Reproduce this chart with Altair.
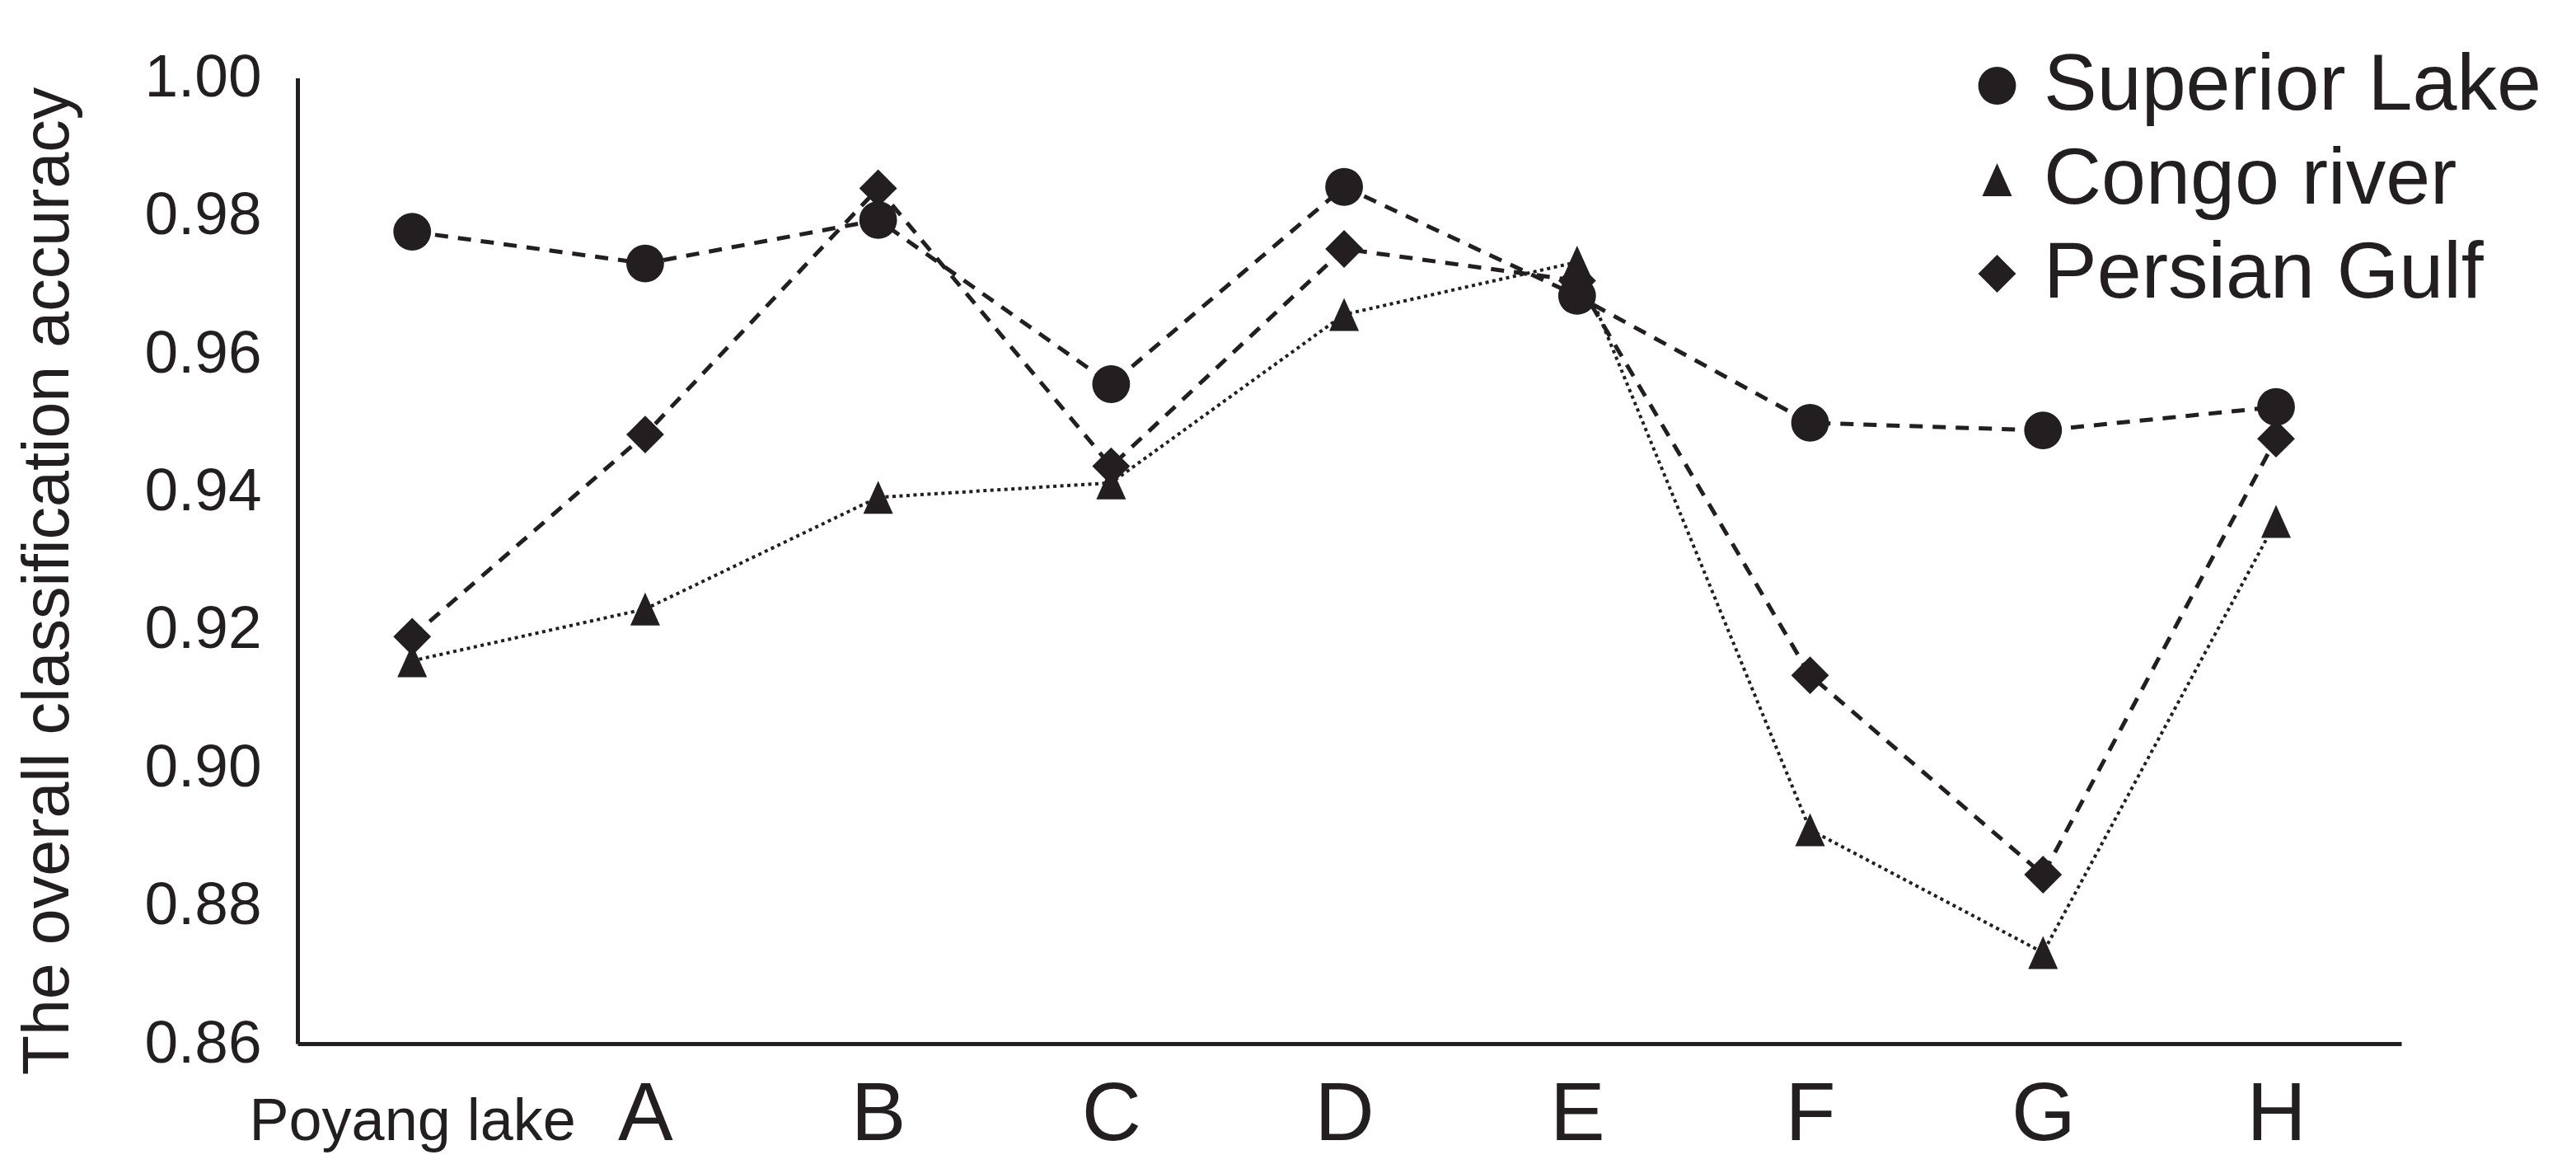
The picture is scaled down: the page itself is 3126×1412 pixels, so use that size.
import altair as alt
import pandas as pd

# ---- data ----
sites = ["Poyang lake", "A", "B", "C", "D", "E", "F", "G", "H"]
series_names = ["Superior Lake", "Congo river", "Persian Gulf"]
superior = [0.9777, 0.9731, 0.9794, 0.9556, 0.9842, 0.9684, 0.9500, 0.9489, 0.9523]
congo = [0.9155, 0.9230, 0.9392, 0.9413, 0.9657, 0.9733, 0.8910, 0.8732, 0.9357]
persian = [0.9190, 0.9483, 0.9840, 0.9437, 0.9752, 0.9706, 0.9134, 0.8845, 0.9477]
y_ticks = [0.86, 0.88, 0.90, 0.92, 0.94, 0.96, 0.98, 1.00]
dashed_series = ["Superior Lake", "Persian Gulf"]
dotted_series = ["Congo river"]

rows = []
for name, vals in zip(series_names, [superior, congo, persian]):
    for s, v in zip(sites, vals):
        rows.append({"site": s, "series": name, "accuracy": v})
df = pd.DataFrame(rows)

INK = "#231f20"
FONT = "Liberation Sans"

x_enc = alt.X(
    "site:N",
    sort=sites,
    scale=alt.Scale(type="point", padding=0.515, align=0.478),
    axis=alt.Axis(
        title=None, labelAngle=0, ticks=False, tickSize=0, grid=False,
        domainColor=INK, domainWidth=5, labelColor=INK, labelFont=FONT,
        labelFontSize={"expr": "datum.value == 'Poyang lake' ? 72 : 100"},
        labelBaseline="alphabetic", labelPadding=116, labelOverlap=False,
        labelLimit=1000,
    ),
)
y_enc = alt.Y(
    "accuracy:Q",
    scale=alt.Scale(domain=[0.86, 1.0], zero=False, nice=False),
    axis=alt.Axis(
        values=y_ticks, format=".2f", title="The overall classification accuracy",
        grid=False, ticks=False, tickSize=0, domainColor=INK, domainWidth=5,
        labelColor=INK, labelFont=FONT, labelFontSize=73, labelPadding=44,
        titleFont=FONT, titleFontSize=79, titleFontWeight="normal", titleColor=INK,
        titleX=-303, titleY=610, titleAlign="center", titleBaseline="middle",
        titleAngle=270, titleLimit=2000,
    ),
)

dashed = (
    alt.Chart(df)
    .transform_filter(alt.FieldOneOfPredicate(field="series", oneOf=dashed_series))
    .mark_line(color=INK, strokeDash=[16, 12], strokeWidth=5)
    .encode(x=x_enc, y=y_enc, detail="series:N")
)
dotted = (
    alt.Chart(df)
    .transform_filter(alt.FieldOneOfPredicate(field="series", oneOf=dotted_series))
    .mark_line(color=INK, strokeDash=[4, 4.5], strokeWidth=4)
    .encode(x=x_enc, y=y_enc, detail="series:N")
)

legend = alt.Legend(
    title=None, orient="none", legendX=2014, legendY=-39, direction="vertical",
    padding=0, labelFont=FONT, labelFontSize=97, labelColor=INK, labelLimit=2000,
    labelOffset=8, rowPadding=16, symbolFillColor=INK, symbolStrokeColor=INK,
    symbolStrokeWidth=0,
)

points = alt.Chart(df).mark_point(filled=True, color=INK, opacity=1).encode(
    x=x_enc,
    y=y_enc,
    shape=alt.Shape(
        "series:N",
        scale=alt.Scale(domain=series_names, range=["circle", "M0,-1L0.9,1L-0.9,1Z", "diamond"]),
        legend=legend,
    ),
    size=alt.Size(
        "series:N",
        scale=alt.Scale(type="ordinal", domain=series_names, range=[2100, 1600, 2100]),
        legend=legend,
    ),
)

chart = (
    alt.layer(dashed, dotted, points)
    .properties(
        width=2553, height=1171.5,
        autosize=alt.AutoSizeParams(type="none"),
        padding={"left": 353, "top": 86.5, "right": 200, "bottom": 138},
        background="white",
    )
    .configure_view(stroke=None)
)

chart.save("out.html", embed_options={"renderer": "svg", "actions": False})
